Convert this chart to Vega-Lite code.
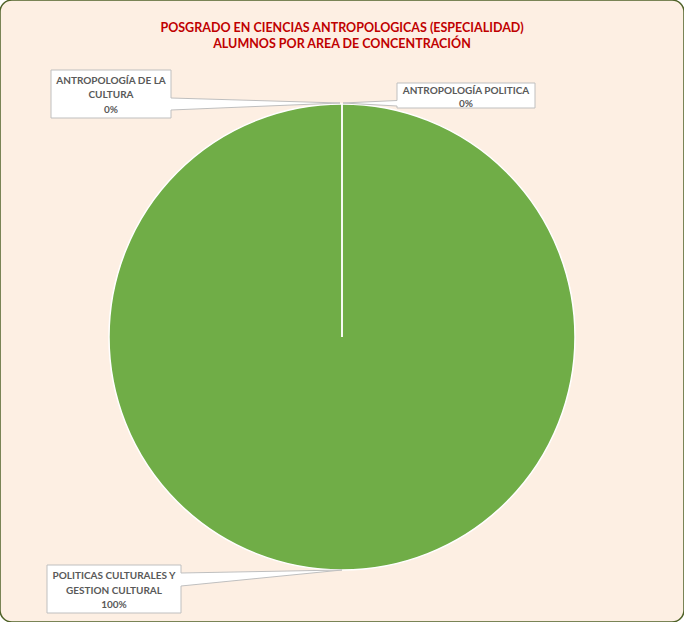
{
  "$schema": "https://vega.github.io/schema/vega-lite/v6.json",
  "width": 684,
  "height": 622,
  "autosize": {"type": "none"},
  "padding": 0,
  "background": "#FFFFFF",
  "view": {"fill": "#FDEFE3", "stroke": "#4F6228", "strokeWidth": 1.5, "cornerRadius": 12},
  "title": {
    "text": ["POSGRADO EN CIENCIAS ANTROPOLOGICAS (ESPECIALIDAD)", "ALUMNOS POR AREA DE CONCENTRACIÓN"],
    "color": "#C00000",
    "font": "Lato",
    "fontSize": 12.5,
    "fontWeight": "bold",
    "lineHeight": 16,
    "anchor": "middle",
    "offset": -50
  },
  "data": {
    "values": [
      {"area": "POLITICAS CULTURALES Y GESTION CULTURAL", "rotulo": "POLITICAS CULTURALES Y|GESTION CULTURAL", "alumnos": 5},
      {"area": "ANTROPOLOGÍA DE LA CULTURA", "rotulo": "ANTROPOLOGÍA DE LA|CULTURA", "alumnos": 0},
      {"area": "ANTROPOLOGÍA POLITICA", "rotulo": "ANTROPOLOGÍA POLITICA", "alumnos": 0}
    ]
  },
  "transform": [
    {"joinaggregate": [{"op": "sum", "field": "alumnos", "as": "total"}]},
    {"calculate": "datum.alumnos / datum.total", "as": "pct"},
    {"calculate": "split(datum.rotulo + '|' + format(datum.pct, '.0%'), '|')", "as": "lbl"}
  ],
  "layer": [
    {
      "mark": {"type": "arc", "outerRadius": 233, "stroke": "#FFFFFF", "strokeWidth": 1.5, "yOffset": 26},
      "encoding": {
        "theta": {"field": "alumnos", "type": "quantitative", "stack": true},
        "color": {
          "field": "area",
          "type": "nominal",
          "scale": {
            "domain": ["ANTROPOLOGÍA DE LA CULTURA", "ANTROPOLOGÍA POLITICA", "POLITICAS CULTURALES Y GESTION CULTURAL"],
            "range": ["#4472C4", "#ED7D31", "#70AD47"]
          },
          "legend": null
        }
      }
    },
    {
      "mark": {"type": "point", "filled": true, "fill": "#FFFFFF", "stroke": "#BFBFBF", "strokeWidth": 1, "opacity": 1, "size": 4, "yOffset": 26},
      "encoding": {
        "shape": {
          "field": "area",
          "type": "nominal",
          "scale": {
            "domain": ["ANTROPOLOGÍA DE LA CULTURA", "ANTROPOLOGÍA POLITICA", "POLITICAS CULTURALES Y GESTION CULTURAL"],
            "range": [
              "M-291,-267H-171V-239L-2,-234L-171,-227V-219H-291Z",
              "M55,-254H193V-229H55V-231L1,-234L55,-236.5Z",
              "M-295,228H-161V236L0,233L-161,249V276H-295Z"
            ]
          },
          "legend": null
        }
      }
    },
    {
      "transform": [{"filter": "datum.area === 'ANTROPOLOGÍA DE LA CULTURA'"}],
      "mark": {"type": "text", "font": "Lato", "fontSize": 10, "fontWeight": "bold", "color": "#595959", "align": "center", "baseline": "middle", "lineHeight": 14.5, "dx": -231, "dy": -230.5},
      "encoding": {"text": {"field": "lbl"}}
    },
    {
      "transform": [{"filter": "datum.area === 'ANTROPOLOGÍA POLITICA'"}],
      "mark": {"type": "text", "font": "Lato", "fontSize": 10, "fontWeight": "bold", "color": "#595959", "align": "center", "baseline": "middle", "lineHeight": 12.5, "dx": 124, "dy": -220},
      "encoding": {"text": {"field": "lbl"}}
    },
    {
      "transform": [{"filter": "datum.area === 'POLITICAS CULTURALES Y GESTION CULTURAL'"}],
      "mark": {"type": "text", "font": "Lato", "fontSize": 10, "fontWeight": "bold", "color": "#595959", "align": "center", "baseline": "middle", "lineHeight": 14.5, "dx": -228, "dy": 265},
      "encoding": {"text": {"field": "lbl"}}
    }
  ]
}
